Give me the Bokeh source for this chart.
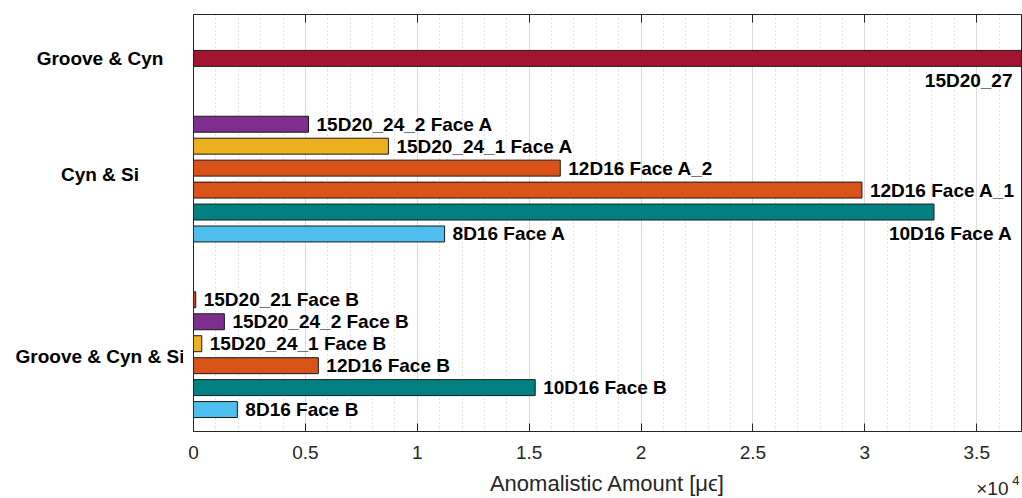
from bokeh.plotting import figure
from bokeh.layouts import row, column
from bokeh.models import (ColumnDataSource, Range1d, LinearAxis, FixedTicker,
                          CustomJSTickFormatter)
from bokeh.core.properties import value
from bokeh.embed import file_html
from bokeh.resources import INLINE

# ---------------- data ----------------
bar_names = ["15D20_27",
             "15D20_24_2 Face A", "15D20_24_1 Face A", "12D16 Face A_2",
             "12D16 Face A_1", "10D16 Face A", "8D16 Face A",
             "15D20_21 Face B", "15D20_24_2 Face B", "15D20_24_1 Face B",
             "12D16 Face B", "10D16 Face B", "8D16 Face B"]
bar_values = [37000,
              5140, 8710, 16390, 29870, 33090, 11220,
              100, 1380, 370, 5580, 15270, 1960]
bar_rows = [2,
            5, 6, 7, 8, 9, 10,
            13, 14, 15, 16, 17, 18]
bar_colors = ["#A2142F",
              "#7E2F8E", "#EDB120", "#D95319", "#D95319", "#008080", "#4DBEEE",
              "#D0402A", "#7E2F8E", "#EDB120", "#D95319", "#008080", "#4DBEEE"]
label_below = [True,
               False, False, False, False, True, False,
               False, False, False, False, False, False]

group_names = ["Groove & Cyn", "Cyn & Si", "Groove & Cyn & Si"]
group_pos = [2, 7.27, 15.6]

x_ticks = [0, 5000, 10000, 15000, 20000, 25000, 30000, 35000]
x_minor = list(range(0, 37001, 1000))
x_title = "Anomalistic Amount [μϵ]"
XMAX = 37000
YMAX = 19

FONT = "Liberation Sans"
LEFT_W, PAD, FRAME_W = 183, 10, 828
MAIN_H, STRIP_H = 468, 30
TOP_B, BOT_B = 14, 37

x_range = Range1d(0, XMAX)
y_range = Range1d(YMAX, 0)

# ---------------- main figure ----------------
p = figure(width=PAD + FRAME_W + 1, height=MAIN_H, output_backend="svg",
           toolbar_location=None, x_range=x_range, y_range=y_range,
           min_border_left=PAD, min_border_right=1, min_border_top=TOP_B,
           min_border_bottom=BOT_B, background_fill_color="white",
           border_fill_color="white")
p.outline_line_color = "#262626"
p.outline_line_width = 1

src = ColumnDataSource(dict(name=bar_names, value=bar_values, row=bar_rows,
                            color=bar_colors))
p.hbar(y="row", left=0, right="value", height=0.727, source=src,
       fill_color="color", line_color="#1a1a1a", line_width=1)

r_names, r_x, r_y = [], [], []
b_names, b_x, b_y = [], [], []
for n, v, r, below in zip(bar_names, bar_values, bar_rows, label_below):
    if below:
        b_names.append(n); b_x.append(XMAX); b_y.append(r + 1)
    else:
        r_names.append(n); r_x.append(v); r_y.append(r)

p.text(x=r_x, y=r_y, text=r_names, x_offset=8, text_align="left",
       text_baseline="middle", text_font=value(FONT), text_font_style="bold",
       text_font_size="19px", text_color="black")
p.text(x=b_x, y=b_y, text=b_names, x_offset=-9, text_align="right",
       text_baseline="middle", text_font=value(FONT), text_font_style="bold",
       text_font_size="19px", text_color="black")

ticker = FixedTicker(ticks=x_ticks, minor_ticks=x_minor)
xa = p.xaxis[0]
xa.ticker = ticker
xa.formatter = CustomJSTickFormatter(
    code="return (Math.round(tick/1000)/10).toString();")
xa.major_tick_in = 8
xa.major_tick_out = 0
xa.minor_tick_in = 0
xa.minor_tick_out = 0
xa.axis_line_color = "#262626"
xa.major_tick_line_color = "#262626"
xa.major_label_text_font = FONT
xa.major_label_text_font_size = "19px"
xa.major_label_text_color = "#262626"
xa.major_label_standoff = 14

top = LinearAxis(ticker=ticker, major_tick_in=8, major_tick_out=0,
                 minor_tick_in=0, minor_tick_out=0,
                 major_label_text_font_size="0px", major_label_standoff=0,
                 axis_line_color="#262626", major_tick_line_color="#262626")
top.formatter = CustomJSTickFormatter(code="return '';")
p.add_layout(top, "above")

p.yaxis.visible = False

p.xgrid.ticker = ticker
p.xgrid.grid_line_color = "#dcdcdc"
p.xgrid.grid_line_width = 1
p.xgrid.minor_grid_line_color = "#c8c8c8"
p.xgrid.minor_grid_line_dash = "1 3"
p.xgrid.minor_grid_line_width = 1
p.ygrid.visible = False

# ---------------- left strip: group labels ----------------
left = figure(width=LEFT_W, height=MAIN_H, output_backend="svg",
              toolbar_location=None, x_range=Range1d(0, 1), y_range=y_range,
              min_border_left=0, min_border_right=0, min_border_top=TOP_B,
              min_border_bottom=BOT_B, border_fill_color="white",
              background_fill_color="white")
left.axis.visible = False
left.grid.visible = False
left.outline_line_color = None
left.text(x=[0.5] * len(group_names), y=group_pos, text=group_names,
          x_offset=8, text_align="center", text_baseline="middle",
          text_font=value(FONT), text_font_style="bold",
          text_font_size="19px", text_color="black")

# ---------------- bottom strip: axis title and exponent ----------------
bot = figure(width=LEFT_W + PAD + FRAME_W + 1, height=STRIP_H,
             output_backend="svg", toolbar_location=None, x_range=x_range,
             y_range=Range1d(0, 1), min_border_left=LEFT_W + PAD,
             min_border_right=1, min_border_top=0, min_border_bottom=0,
             border_fill_color="white", background_fill_color="white")
bot.axis.visible = False
bot.grid.visible = False
bot.outline_line_color = None
bot.text(x=[XMAX / 2], y=[0.5], text=[x_title], text_align="center",
         text_baseline="middle", text_font=value(FONT),
         text_font_size="22px", text_color="#262626")
bot.text(x=[XMAX], y=[0.5], text=["×10"], x_offset=-13, y_offset=5,
         text_align="right", text_baseline="middle",
         text_font=value(FONT), text_font_size="19px", text_color="#262626")
bot.text(x=[XMAX], y=[0.5], text=["4"], x_offset=-2, y_offset=-3,
         text_align="right", text_baseline="middle",
         text_font=value(FONT), text_font_size="13px", text_color="#262626")

layout = column(row(left, p, spacing=0), bot, spacing=0)
open("out.html", "w").write(file_html(layout, INLINE))
